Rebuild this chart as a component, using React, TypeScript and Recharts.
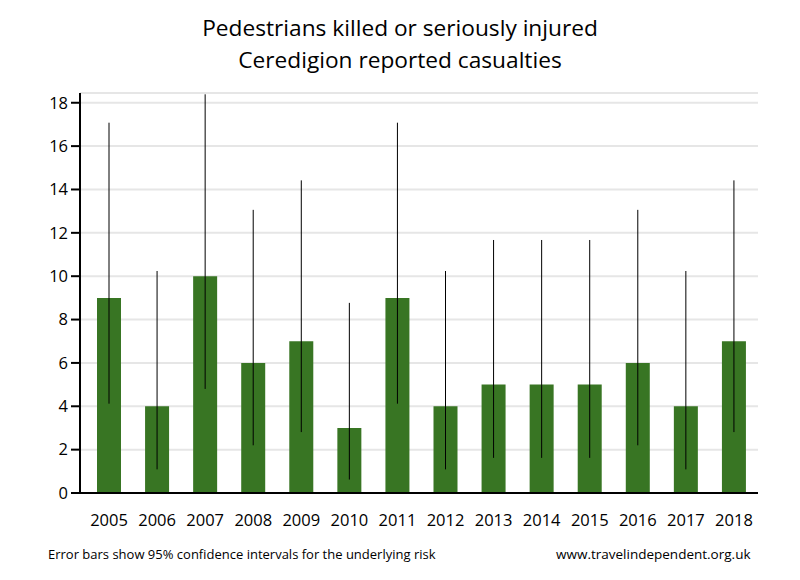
import { BarChart, Bar, XAxis, YAxis, CartesianGrid, ErrorBar } from "recharts";

const years = ["2005", "2006", "2007", "2008", "2009", "2010", "2011", "2012", "2013", "2014", "2015", "2016", "2017", "2018"];
const casualties = [9, 4, 10, 6, 7, 3, 9, 4, 5, 5, 5, 6, 4, 7];
const lowerCI = [4.12, 1.09, 4.8, 2.2, 2.81, 0.62, 4.12, 1.09, 1.62, 1.62, 1.62, 2.2, 1.09, 2.81];
const upperCI = [17.08, 10.24, 18.39, 13.06, 14.42, 8.77, 17.08, 10.24, 11.67, 11.67, 11.67, 13.06, 10.24, 14.42];
const yTicks = [0, 2, 4, 6, 8, 10, 12, 14, 16, 18];

const data = years.map((year, i) => ({
    year,
    count: casualties[i],
    ci: [casualties[i] - lowerCI[i], upperCI[i] - casualties[i]]
}));

const font = "'Open Sans', sans-serif";

export default function App() {
    return (
        <div style={{ position: "absolute", left: 0, top: 0, width: 800, height: 580, background: "#fff", fontFamily: font }}>
            <div style={{ position: "absolute", left: 0, width: 800, top: 12, textAlign: "center", fontSize: 22.7, lineHeight: "32px", color: "#000" }}>
                Pedestrians killed or seriously injured
                <br />
                Ceredigion reported casualties
            </div>
            <BarChart
                width={800}
                height={580}
                data={data}
                margin={{ top: 93, right: 42, bottom: 47, left: 0 }}
                barCategoryGap={0}
            >
                <CartesianGrid horizontal vertical={false} stroke="#e6e6e6" strokeWidth={2} />
                <XAxis
                    dataKey="year"
                    height={40}
                    padding={{ left: 5, right: 0 }}
                    tickLine={false}
                    tickSize={0}
                    tickMargin={21}
                    axisLine={{ stroke: "#000", strokeWidth: 2 }}
                    tick={{ fill: "#000", fontSize: 16.5, fontFamily: font }}
                    interval={0}
                />
                <YAxis
                    width={80}
                    domain={[0, 18.45]}
                    ticks={yTicks}
                    tickSize={9}
                    tickMargin={3}
                    tickLine={{ stroke: "#000", strokeWidth: 2 }}
                    axisLine={{ stroke: "#000", strokeWidth: 2 }}
                    tick={{ fill: "#000", fontSize: 16.5, fontFamily: font }}
                    allowDataOverflow
                />
                <Bar dataKey="count" fill="#387523" barSize={24} isAnimationActive={false}>
                    <ErrorBar dataKey="ci" width={0} stroke="#000" strokeWidth={1} direction="y" />
                </Bar>
            </BarChart>
            <div style={{ position: "absolute", left: 48, top: 545, fontSize: 13, color: "#000" }}>
                Error bars show 95% confidence intervals for the underlying risk
            </div>
            <div style={{ position: "absolute", left: 556, top: 545, fontSize: 13.5, color: "#000" }}>
                www.travelindependent.org.uk
            </div>
        </div>
    );
}
